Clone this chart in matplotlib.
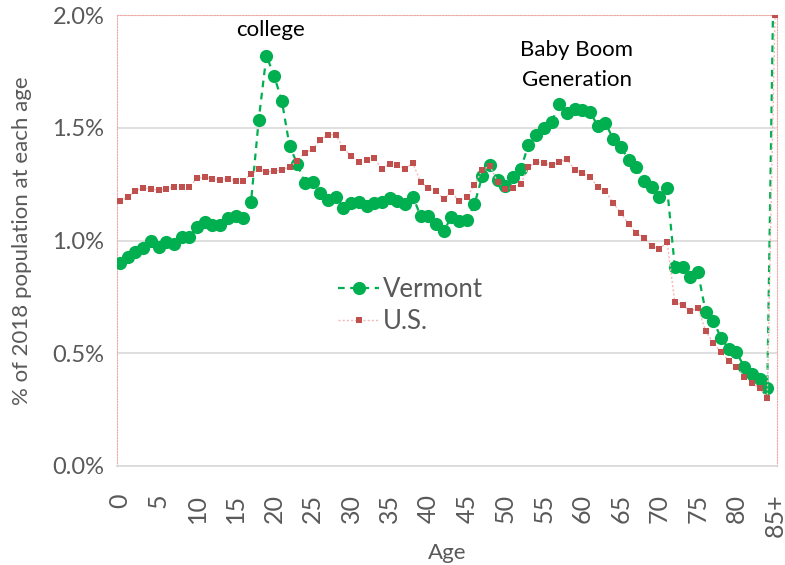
import matplotlib
matplotlib.use("Agg")
import matplotlib.pyplot as plt
import numpy as np

tick_labels = ["0", "5", "10", "15", "20", "25", "30", "35", "40", "45",
               "50", "55", "60", "65", "70", "75", "80", "85+"]

# % of 2018 population at each age (index 0..84, then 85+)
vermont = [0.90, 0.925, 0.95, 0.965, 1.00, 0.97, 0.995, 0.985, 1.015, 1.015,
           1.06, 1.08, 1.07, 1.07, 1.10, 1.11, 1.10, 1.17, 1.535, 1.82,
           1.73, 1.62, 1.42, 1.34, 1.255, 1.26, 1.21, 1.18, 1.195, 1.145,
           1.165, 1.17, 1.155, 1.165, 1.17, 1.19, 1.175, 1.16, 1.195, 1.11,
           1.11, 1.075, 1.04, 1.105, 1.085, 1.09, 1.16, 1.285, 1.335, 1.27,
           1.24, 1.28, 1.317, 1.423, 1.468, 1.50, 1.525, 1.605, 1.565, 1.583,
           1.579, 1.57, 1.508, 1.521, 1.45, 1.415, 1.357, 1.326, 1.264, 1.237,
           1.193, 1.233, 0.882, 0.882, 0.838, 0.86, 0.683, 0.643, 0.568, 0.519,
           0.505, 0.439, 0.408, 0.386, 0.346, 2.6]
us = [1.175, 1.193, 1.22, 1.233, 1.228, 1.224, 1.228, 1.237, 1.237, 1.237,
      1.277, 1.282, 1.273, 1.268, 1.273, 1.264, 1.264, 1.295, 1.317, 1.304,
      1.308, 1.313, 1.326, 1.353, 1.39, 1.405, 1.445, 1.47, 1.468, 1.41,
      1.375, 1.35, 1.355, 1.365, 1.317, 1.34, 1.335, 1.317, 1.343, 1.26,
      1.233, 1.22, 1.184, 1.215, 1.175, 1.193, 1.246, 1.313, 1.33, 1.26,
      1.228, 1.233, 1.25, 1.326, 1.348, 1.344, 1.335, 1.348, 1.361, 1.313,
      1.299, 1.282, 1.237, 1.22, 1.166, 1.122, 1.073, 1.033, 1.011, 0.976,
      0.962, 0.993, 0.727, 0.714, 0.687, 0.70, 0.599, 0.545, 0.505, 0.466,
      0.439, 0.395, 0.368, 0.346, 0.302, 2.0]

ages = np.arange(len(vermont))

plt.rcParams['font.family'] = ['Lato', 'DejaVu Sans']
fig = plt.figure(figsize=(7.85, 5.65), dpi=100)
ax = fig.add_axes([117/785, 1-466/565, (777-117)/785, (466-15)/565])

grey = '#595959'
ax.plot(ages, vermont, color='#00b050', linestyle=(0, (3, 2.5)), linewidth=1.6,
        marker='o', markersize=9.5, markeredgewidth=0, label='Vermont', zorder=3)
ax.plot(ages, us, color='#f4b8b8', linestyle=(0, (1.5, 1.5)), linewidth=1.0,
        marker='s', markersize=5, markerfacecolor='#c0504d', markeredgewidth=0,
        label='U.S.', zorder=4)

ax.set_xlim(-0.39, 85.26)
ax.set_ylim(0, 2.0)
ax.set_yticks([0, 0.5, 1.0, 1.5, 2.0])
ax.set_yticklabels(['0.0%', '0.5%', '1.0%', '1.5%', '2.0%'], fontsize=17, color=grey)
ax.set_xticks(np.arange(0, 86, 5))
ax.set_xticklabels(tick_labels, rotation=90, fontsize=18, color=grey)
ax.tick_params(axis='y', length=0, pad=9)
ax.tick_params(axis='x', length=0, pad=20)
ax.yaxis.grid(True, color='#d9d9d9', linewidth=1.2)
ax.set_axisbelow(True)

for s in ['left', 'right', 'top']:
    ax.spines[s].set_color('#f4a6a6')
    ax.spines[s].set_linestyle((0, (1, 1.5)))
    ax.spines[s].set_linewidth(0.8)
ax.spines['bottom'].set_color('#d9d9d9')
ax.spines['bottom'].set_linewidth(1.2)

ax.set_xlabel('Age', fontsize=16, color=grey, labelpad=4)
ax.set_ylabel('% of 2018 population at each age', fontsize=16, color=grey, labelpad=15)

ax.text(19.5, 1.933, 'college', fontsize=16, color='black', ha='center', va='center')
ax.text(59.3, 1.845, 'Baby Boom', fontsize=16, color='black', ha='center', va='center')
ax.text(59.3, 1.712, 'Generation', fontsize=16, color='black', ha='center', va='center')

leg = ax.legend(loc='upper left', bbox_to_anchor=(0.3, 0.47), frameon=False,
                fontsize=18.5, handlelength=1.6, labelspacing=0.25, handletextpad=0.15,
                labelcolor=grey)

fig.savefig('out.png', dpi=100)
